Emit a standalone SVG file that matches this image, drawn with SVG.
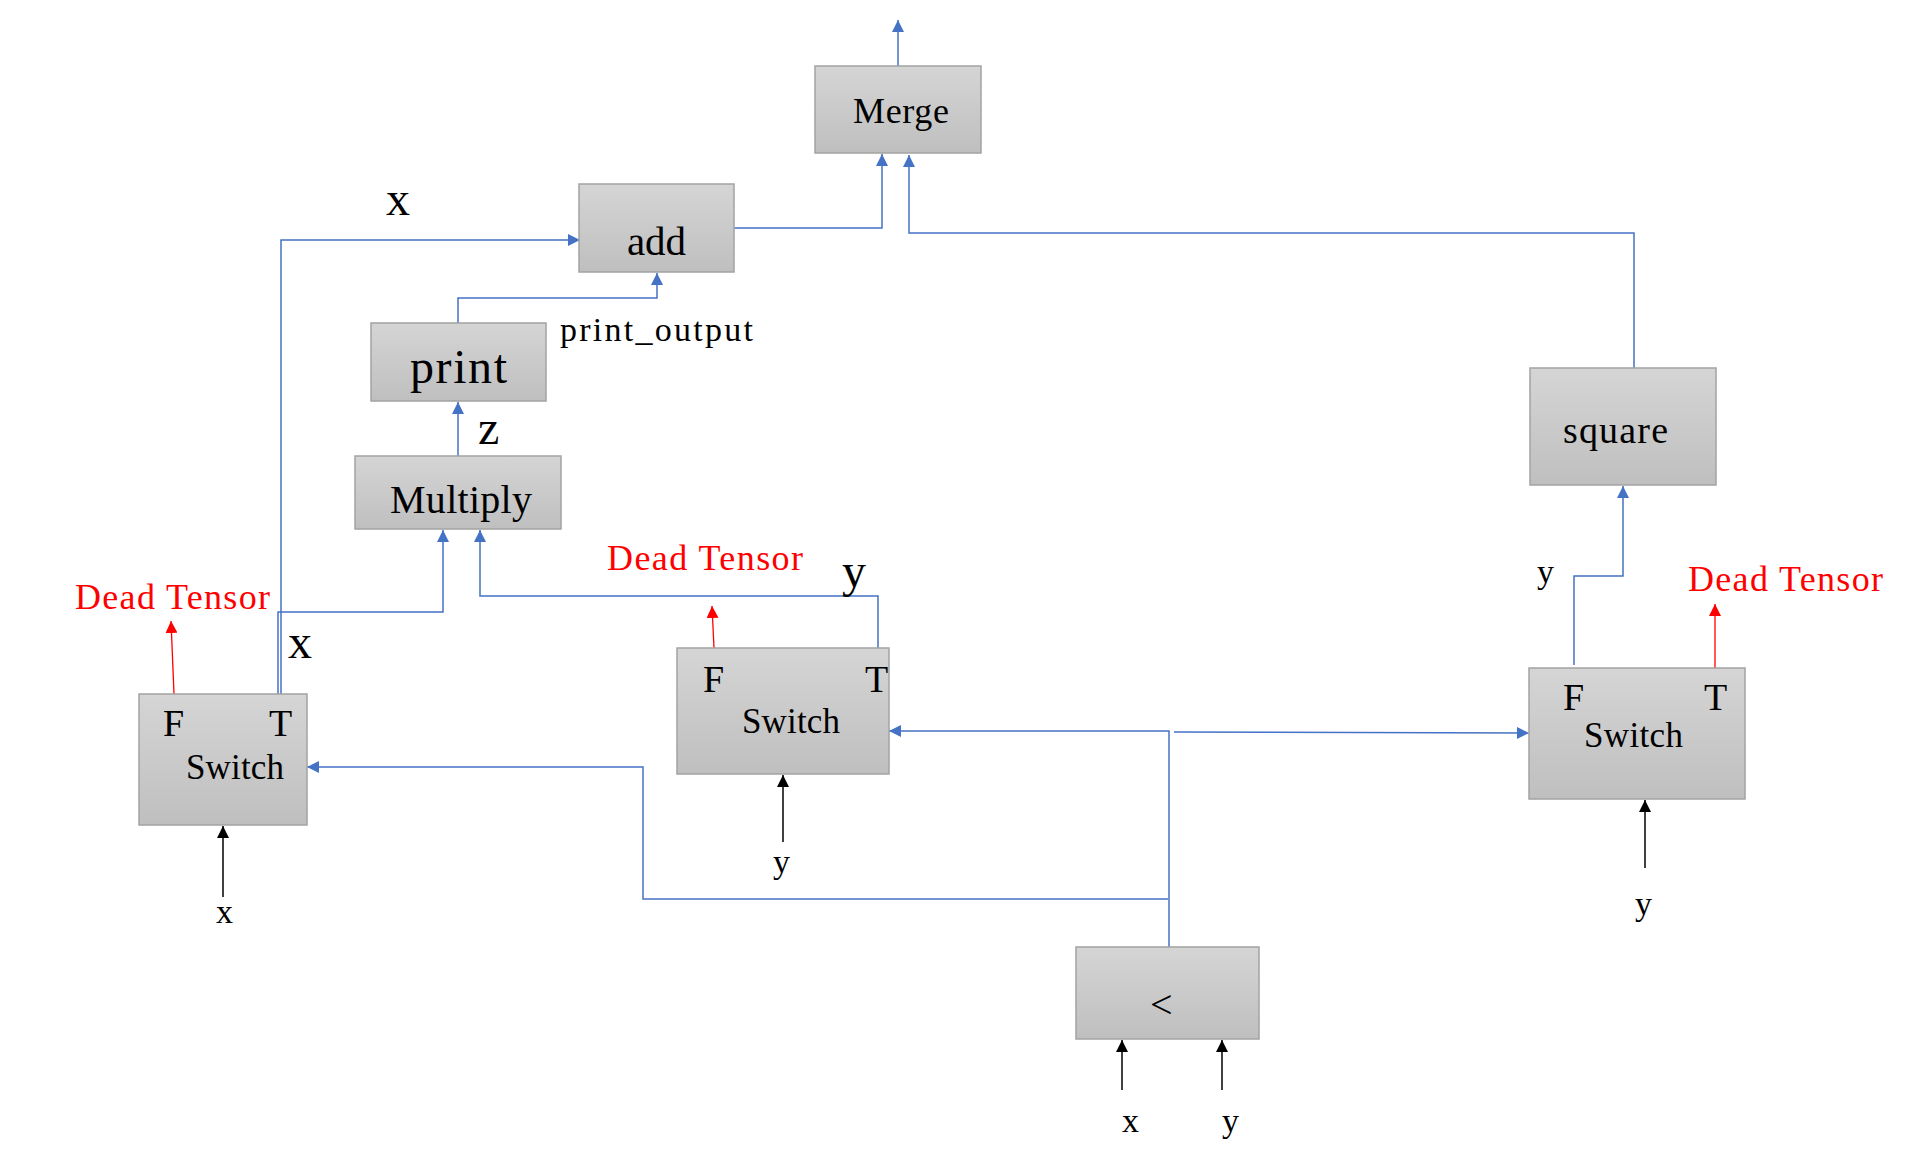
<svg xmlns="http://www.w3.org/2000/svg" width="1926" height="1149" viewBox="0 0 1926 1149">
<defs>
<linearGradient id="g" x1="0" y1="0" x2="0" y2="1">
<stop offset="0" stop-color="#d5d5d5"/>
<stop offset="1" stop-color="#bfbfbf"/>
</linearGradient>
<marker id="ab" viewBox="0 0 12 12" refX="12" refY="6" markerWidth="12" markerHeight="12" markerUnits="userSpaceOnUse" orient="auto"><path d="M0,0 L12,6 L0,12 z" fill="#4472c4"/></marker>
<marker id="ar" viewBox="0 0 12 12" refX="12" refY="6" markerWidth="12" markerHeight="12" markerUnits="userSpaceOnUse" orient="auto"><path d="M0,0 L12,6 L0,12 z" fill="#ff0000"/></marker>
<marker id="ak" viewBox="0 0 12 12" refX="12" refY="6" markerWidth="12" markerHeight="12" markerUnits="userSpaceOnUse" orient="auto"><path d="M0,0 L12,6 L0,12 z" fill="#000000"/></marker>
</defs>
<style>
.box{fill:url(#g);stroke:#a3a3a3;stroke-width:1.5}
text{font-family:"Liberation Serif","Times New Roman",serif;fill:#000}
.lbl{font-size:36px}
.big{font-size:48px}
.sm{font-size:34px}
.dead{font-size:36px;fill:#ff0000}
.b{fill:none;stroke:#4472c4;stroke-width:1.5;marker-end:url(#ab)}
.bn{fill:none;stroke:#4472c4;stroke-width:1.5}
.r{fill:none;stroke:#ff0000;stroke-width:1.3;marker-end:url(#ar)}
.k{fill:none;stroke:#000;stroke-width:1.5;marker-end:url(#ak)}
</style>
<rect width="1926" height="1149" fill="#ffffff"/>

<g id="connectors">
<path class="b" d="M898,66 V20"/>
<path class="b" d="M718,228 H882 V154"/>
<path class="b" d="M1634,368 V233 H909 V155"/>
<path class="b" d="M458,323 V298 H657 V273"/>
<path class="b" d="M458,456 V402"/>
<path class="b" d="M281,694 V240 H580"/>
<path class="b" d="M278,700 V612 H443 V530"/>
<path class="b" d="M878,693 V596 H480 V530"/>
<path class="b" d="M1169,947 V731 H889"/>
<path class="b" d="M1168,899 H643 V767 H307"/>
<path class="b" d="M1174,732 L1529,733"/>
<path class="b" d="M1574,665 V576 H1623 V486"/>
<path class="r" d="M174,694 L171,621"/>
<path class="r" d="M714,648 L712,606"/>
<path class="r" d="M1715,668 L1715,604"/>
<path class="k" d="M223,897 V826"/>
<path class="k" d="M783,842 V775"/>
<path class="k" d="M1645,868 V800"/>
<path class="k" d="M1122,1090 V1040"/>
<path class="k" d="M1222,1090 V1040"/>
</g>

<g id="merge">
<rect class="box" x="815" y="66" width="166" height="87"/>
<text class="lbl" x="853" y="123" textLength="96">Merge</text>
</g>
<g id="add">
<rect class="box" x="579" y="184" width="155" height="88"/>
<text x="627" y="255" style="font-size:41px" textLength="59">add</text>
</g>
<g id="print">
<rect class="box" x="371" y="323" width="175" height="78"/>
<text x="410" y="383" style="font-size:48px" textLength="97">print</text>
</g>
<g id="multiply">
<rect class="box" x="355" y="456" width="206" height="73"/>
<text x="390" y="513" style="font-size:40px" textLength="142">Multiply</text>
</g>
<g id="square">
<rect class="box" x="1530" y="368" width="186" height="117"/>
<text x="1563" y="443" style="font-size:38px" textLength="105">square</text>
</g>
<g id="switch1">
<rect class="box" x="139" y="694" width="168" height="131"/>
<text x="163" y="736" style="font-size:38px">F</text>
<text x="269" y="736" style="font-size:38px">T</text>
<text x="186" y="779" style="font-size:35px" textLength="98">Switch</text>
</g>
<g id="switch2">
<rect class="box" x="677" y="648" width="212" height="126"/>
<text x="703" y="692" style="font-size:38px">F</text>
<text x="865" y="692" style="font-size:38px">T</text>
<text x="742" y="733" style="font-size:35px" textLength="98">Switch</text>
</g>
<g id="switch3">
<rect class="box" x="1529" y="668" width="216" height="131"/>
<text x="1563" y="710" style="font-size:38px">F</text>
<text x="1704" y="710" style="font-size:38px">T</text>
<text x="1584" y="747" style="font-size:35px" textLength="99">Switch</text>
</g>
<g id="less">
<rect class="box" x="1076" y="947" width="183" height="92"/>
<text x="1150" y="1018" style="font-size:40px">&lt;</text>
</g>

<g id="labels">
<text class="big" x="386" y="215">x</text>
<text class="sm" x="560" y="341" textLength="193">print_output</text>
<text class="big" x="478" y="444">z</text>
<text class="big" x="288" y="658">x</text>
<text class="big" x="842" y="587">y</text>
<text class="dead" x="75" y="609" textLength="195">Dead Tensor</text>
<text class="dead" x="607" y="570" textLength="196">Dead Tensor</text>
<text class="dead" x="1688" y="591" textLength="195">Dead Tensor</text>
<text class="sm" x="1537" y="583">y</text>
<text class="sm" x="216" y="923">x</text>
<text class="sm" x="773" y="873">y</text>
<text class="sm" x="1635" y="915">y</text>
<text class="sm" x="1122" y="1132">x</text>
<text class="sm" x="1222" y="1132">y</text>
</g>
</svg>
